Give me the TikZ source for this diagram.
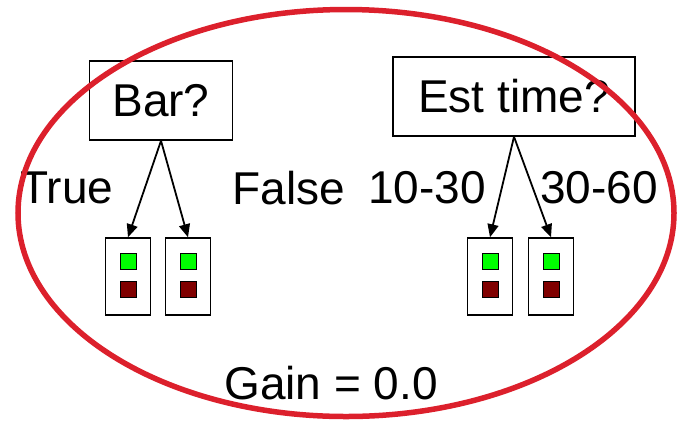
\documentclass[tikz,border=0pt]{standalone}
\usepackage{fontspec}
\setmainfont{Liberation Sans}
\usetikzlibrary{arrows.meta}

\definecolor{ringred}{RGB}{220,32,44}
\definecolor{posgreen}{RGB}{0,255,0}
\definecolor{negred}{RGB}{128,0,0}
\newcommand{\bigtext}{\fontsize{46bp}{55bp}\selectfont}

\tikzset{
  test/.style={draw, line width=1.5bp, inner sep=0pt, minimum height=79bp, font=\bigtext},
  leaf/.style={draw, line width=1.5bp, inner sep=0pt, minimum width=45bp, minimum height=77bp},
  dot/.style={draw, line width=1bp, inner sep=0pt, minimum size=16bp},
  word/.style={inner sep=0pt, font=\bigtext},
  branch/.style={line width=1.8bp, -{Triangle[length=13bp,width=11bp]}}
}

\begin{document}
\begin{tikzpicture}[x=1bp, y=-1bp]
    \useasboundingbox (0,0) rectangle (677,421);

    \node [test, minimum width=143bp] (bar) at (161,100.5) {Bar?};
    \node [test, minimum width=242bp] (est) at (514,96.5) {Est time?};

    \foreach \n/\x in {bt/128, bf/188, e1/490, e2/551} {
      \node [leaf] (\n) at (\x,276.5) {};
      \node [dot, fill=posgreen] (\n-pos) at (\x,261.5) {};
      \node [dot, fill=negred] (\n-neg) at (\x,289.5) {};
    }

    \draw [branch] (bar.south) -- (bt.north);
    \draw [branch] (bar.south) -- (bf.north);
    \draw [branch] (est.south) -- (e1.north);
    \draw [branch] (est.south) -- (e2.north);

    \node [word] (true) at (67,188) {True};
    \node [word] (false) at (289,188) {False};
    \node [word] (low) at (427,188) {10-30};
    \node [word] (high) at (599,188) {30-60};
    \node [word] (gain) at (331,383) {Gain = 0.0};

    \draw [ringred, line width=5.5bp] (346,213) ellipse [x radius=328, y radius=203.5];

  \end{tikzpicture}
\end{document}
